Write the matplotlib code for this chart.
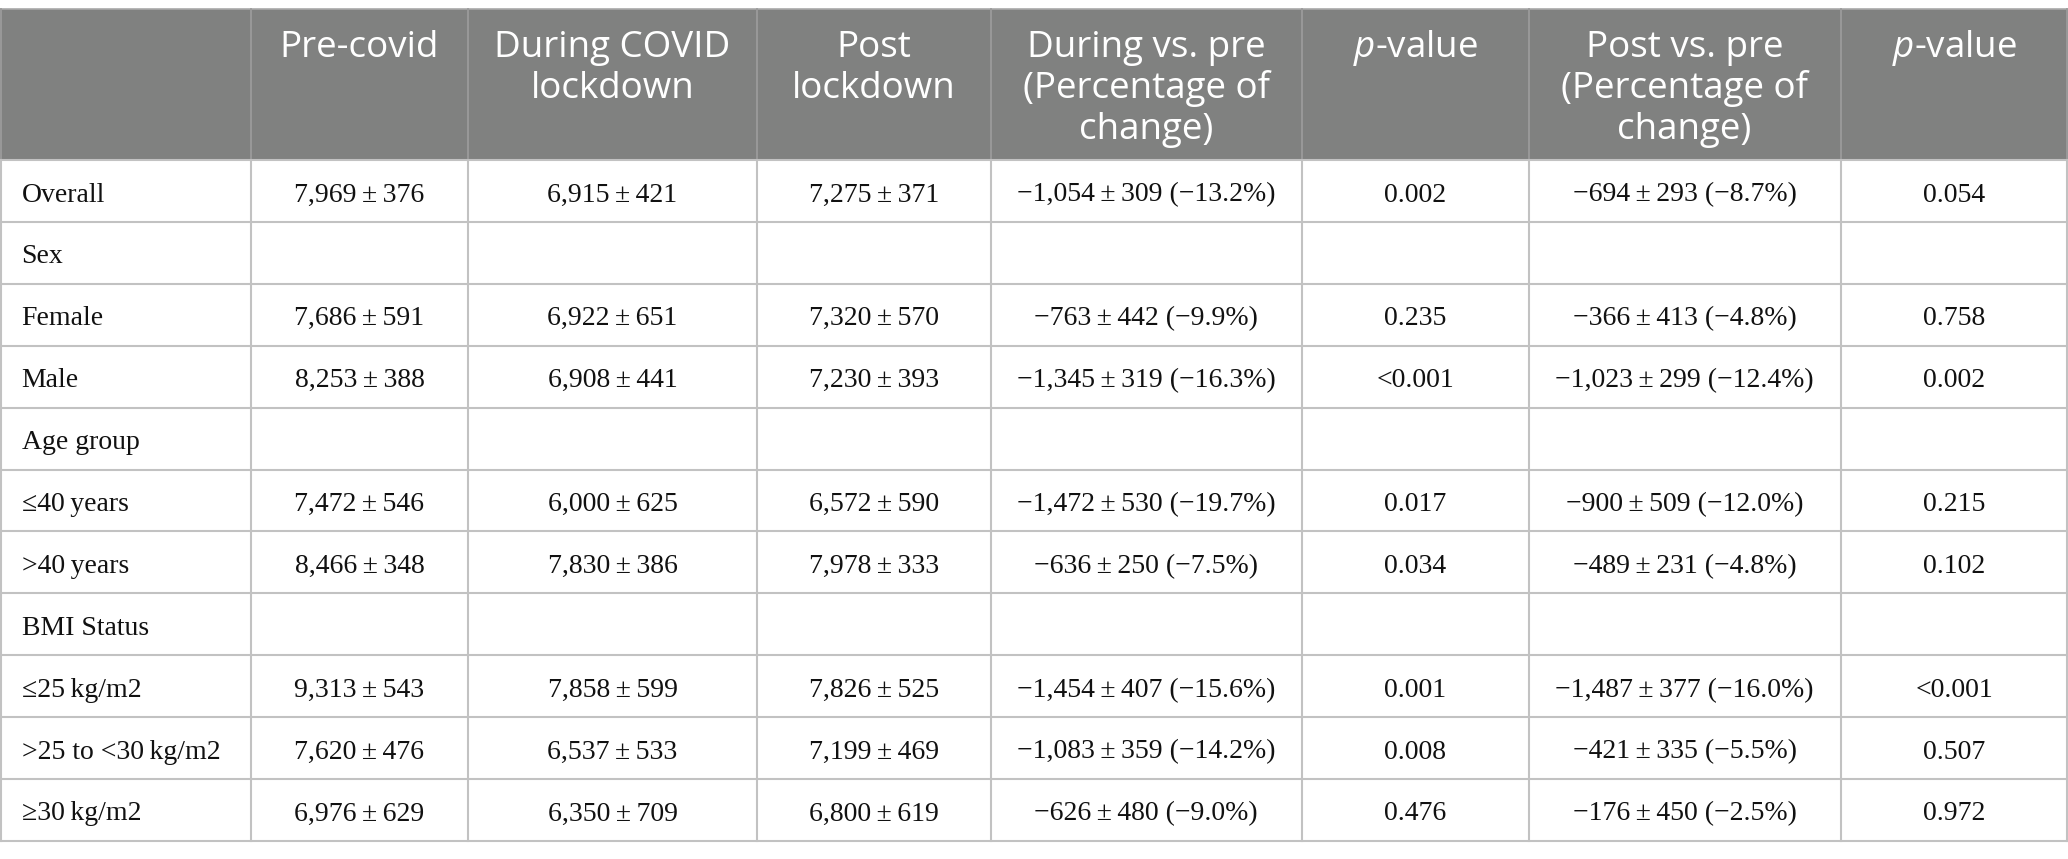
import matplotlib.pyplot as plt
from matplotlib.patches import Rectangle

# -----------------------------
# Table data
# -----------------------------
header = [
    "",
    "Pre-covid",
    "During COVID\nlockdown",
    "Post\nlockdown",
    "During vs. pre\n(Percentage of\nchange)",
    "$p$-value",
    "Post vs. pre\n(Percentage of\nchange)",
    "$p$-value",
]

row_labels = [
    "Overall", "Sex", "Female", "Male", "Age group", "\u226440\u2009years",
    ">40\u2009years", "BMI Status", "\u226425\u2009kg/m2", ">25 to <30\u2009kg/m2",
    "\u226530\u2009kg/m2",
]

# mean, sd (None for group heading rows)
pre = [(7969, 376), None, (7686, 591), (8253, 388), None, (7472, 546),
       (8466, 348), None, (9313, 543), (7620, 476), (6976, 629)]
during = [(6915, 421), None, (6922, 651), (6908, 441), None, (6000, 625),
          (7830, 386), None, (7858, 599), (6537, 533), (6350, 709)]
post = [(7275, 371), None, (7320, 570), (7230, 393), None, (6572, 590),
        (7978, 333), None, (7826, 525), (7199, 469), (6800, 619)]

# change, sd, percentage
during_vs_pre = [(-1054, 309, -13.2), None, (-763, 442, -9.9), (-1345, 319, -16.3),
                 None, (-1472, 530, -19.7), (-636, 250, -7.5), None,
                 (-1454, 407, -15.6), (-1083, 359, -14.2), (-626, 480, -9.0)]
p_during = ["0.002", "", "0.235", "<0.001", "", "0.017", "0.034", "",
            "0.001", "0.008", "0.476"]
post_vs_pre = [(-694, 293, -8.7), None, (-366, 413, -4.8), (-1023, 299, -12.4),
               None, (-900, 509, -12.0), (-489, 231, -4.8), None,
               (-1487, 377, -16.0), (-421, 335, -5.5), (-176, 450, -2.5)]
p_post = ["0.054", "", "0.758", "0.002", "", "0.215", "0.102", "",
          "<0.001", "0.507", "0.972"]


def fmt_num(v):
    return f"{v:,}".replace("-", "\u2212")


def fmt_mean(x):
    if x is None:
        return ""
    return f"{fmt_num(x[0])}\u2009\u00b1\u2009{fmt_num(x[1])}"


def fmt_change(x):
    if x is None:
        return ""
    pct = f"{x[2]:.1f}".replace("-", "\u2212")
    return f"{fmt_num(x[0])}\u2009\u00b1\u2009{fmt_num(x[1])} ({pct}%)"


# -----------------------------
# Layout (pixels)
# -----------------------------
W, H = 2068, 859
col_widths = [250.7, 217.6, 288.5, 233.9, 310.8, 227.2, 311.8, 227.5]
top = 8.5
header_h = 151.5
row_h = 61.9

header_bg = "#808180"
line_col = "#c2c2c2"

plt.rcParams["mathtext.fontset"] = "custom"
plt.rcParams["mathtext.rm"] = "Open Sans"
plt.rcParams["mathtext.it"] = "Open Sans:italic"

fig = plt.figure(figsize=(W / 100, H / 100), dpi=100)
ax = fig.add_axes([0, 0, 1, 1])
ax.set_xlim(0, W)
ax.set_ylim(H, 0)
ax.axis("off")

edges = [0.0]
for w in col_widths:
    edges.append(edges[-1] + w)

n_rows = len(row_labels)
bottom = top + header_h + n_rows * row_h

# header band
ax.add_patch(Rectangle((0, top), W, header_h, facecolor=header_bg, edgecolor="none"))
ax.plot([0, W], [top, top], color="#a9a9a9", lw=1.2)

# grid lines
for i in range(n_rows + 1):
    y = top + header_h + i * row_h
    ax.plot([0, W], [y, y], color=line_col, lw=1.5, solid_capstyle="butt")
for j, x in enumerate(edges):
    x = min(max(x, 0.8), W - 0.8)
    ax.plot([x, x], [top, top + header_h], color="#9b9b9b", lw=1.3)
    ax.plot([x, x], [top + header_h, bottom], color=line_col, lw=1.5)

# header text
line_gap = 41.0
for j, txt in enumerate(header):
    cx = (edges[j] + edges[j + 1]) / 2
    for k, line in enumerate(txt.split("\n")):
        ax.text(cx, top + 48.2 + k * line_gap, line, ha="center", va="baseline",
                color="white", fontsize=26.5, family="Open Sans")

# body text
body_font = ["Liberation Serif", "DejaVu Serif"]
for i in range(n_rows):
    yb = top + header_h + i * row_h + 41.5
    ax.text(21.5, yb, row_labels[i], ha="left", va="baseline",
            fontsize=20, family=body_font, color="#111111")
    cells = [fmt_mean(pre[i]), fmt_mean(during[i]), fmt_mean(post[i]),
             fmt_change(during_vs_pre[i]), p_during[i],
             fmt_change(post_vs_pre[i]), p_post[i]]
    for j, c in enumerate(cells, start=1):
        cx = (edges[j] + edges[j + 1]) / 2
        ax.text(cx, yb, c, ha="center", va="baseline",
                fontsize=20, family=body_font, color="#111111")

fig.savefig("out.png", dpi=100)
